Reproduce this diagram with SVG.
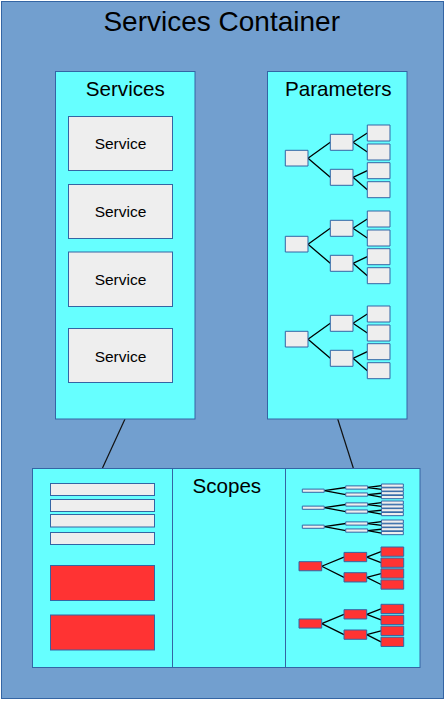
<svg xmlns="http://www.w3.org/2000/svg" xmlns:xlink="http://www.w3.org/1999/xlink" width="446" height="702" viewBox="0 0 446 702">
<style>
.outer{fill:#729fcf;stroke:#3465a4;stroke-width:1}
.panel{fill:#66ffff;stroke:#3465a4;stroke-width:1}
.box{fill:#eeeeee;stroke:#3465a4;stroke-width:1}
.red{fill:#ff3333;stroke:#3465a4;stroke-width:1}
.tb{stroke:#3465a4;stroke-width:1;vector-effect:non-scaling-stroke}
.tl{fill:none;stroke:#000;stroke-width:1.3;vector-effect:non-scaling-stroke}
.conn{fill:none;stroke:#111;stroke-width:1.2}
text{font-family:"Liberation Sans",Arial,sans-serif;fill:#000;text-anchor:middle}
.title{font-size:28px}
.h{font-size:20.6px}
.svc{font-size:15.5px}
</style>
<defs>
<g id="tree">
<path class="tl" d="M22.7 33.2L45 17.3M22.7 33.2L45 52.3M67.7 17.3L82 8M67.7 17.3L82 27M67.7 52.3L82 45.7M67.7 52.3L82 64.7"/>
<rect class="tb" x="0" y="25.3" width="22.7" height="15.7"/>
<rect class="tb" x="45" y="9.3" width="22.7" height="16"/>
<rect class="tb" x="45" y="44.3" width="22.7" height="16"/>
<rect class="tb" x="82" y="0" width="22.7" height="16"/>
<rect class="tb" x="82" y="19" width="22.7" height="16"/>
<rect class="tb" x="82" y="37.7" width="22.7" height="16"/>
<rect class="tb" x="82" y="56.7" width="22.7" height="16"/>
</g>
</defs>
<g id="container">
<rect class="outer" x="1.5" y="1.5" width="442" height="697"/>
<text class="title" x="221.7" y="30.5">Services Container</text>
</g>
<g id="connectors">
<line class="conn" x1="125" y1="419" x2="102.5" y2="468"/>
<line class="conn" x1="337.7" y1="419" x2="353.3" y2="468"/>
</g>
<g id="services">
<rect class="panel" x="55.5" y="71.5" width="139.5" height="347.5"/>
<text class="h" x="125.3" y="95.7">Services</text>
<g id="service1"><rect class="box" x="68.5" y="116.5" width="104" height="54"/><text class="svc" x="120.5" y="149.3">Service</text></g>
<g id="service2"><rect class="box" x="68.5" y="184.5" width="104" height="54"/><text class="svc" x="120.5" y="217.2">Service</text></g>
<g id="service3"><rect class="box" x="68.5" y="252" width="104" height="54.5"/><text class="svc" x="120.5" y="285.2">Service</text></g>
<g id="service4"><rect class="box" x="68.5" y="328.5" width="104" height="54"/><text class="svc" x="120.5" y="361.5">Service</text></g>
</g>
<g id="parameters">
<rect class="panel" x="267.5" y="71.5" width="139.5" height="347.5"/>
<text class="h" x="338.3" y="96">Parameters</text>
<use xlink:href="#tree" fill="#eeeeee" transform="translate(285.3,125)"/>
<use xlink:href="#tree" fill="#eeeeee" transform="translate(285.3,211)"/>
<use xlink:href="#tree" fill="#eeeeee" transform="translate(285.3,306)"/>
</g>
<g id="scopes">
<rect class="panel" x="32.5" y="468.5" width="140" height="199"/>
<rect class="panel" x="172.5" y="468.5" width="113" height="199"/>
<rect class="panel" x="285.5" y="468.5" width="134.5" height="199"/>
<text class="h" x="226.8" y="493">Scopes</text>
<g id="scope-left">
<rect class="box" x="50.5" y="483.5" width="104" height="12"/>
<rect class="box" x="50.5" y="499.5" width="104" height="12"/>
<rect class="box" x="50.5" y="514.5" width="104" height="12.5"/>
<rect class="box" x="50.5" y="532.5" width="104" height="12"/>
<rect class="red" x="50.5" y="565.5" width="104" height="35"/>
<rect class="red" x="50.5" y="615" width="104" height="35"/>
</g>
<g id="scope-right">
<use xlink:href="#tree" fill="#eeeeee" transform="translate(302.3,484) scale(0.965,0.202)"/>
<use xlink:href="#tree" fill="#eeeeee" transform="translate(302.3,501) scale(0.965,0.202)"/>
<use xlink:href="#tree" fill="#eeeeee" transform="translate(302.3,520) scale(0.965,0.202)"/>
<use xlink:href="#tree" fill="#ff3333" transform="translate(299,547) scale(1,0.58)"/>
<use xlink:href="#tree" fill="#ff3333" transform="translate(299,604.3) scale(1,0.58)"/>
</g>
</g>
</svg>
